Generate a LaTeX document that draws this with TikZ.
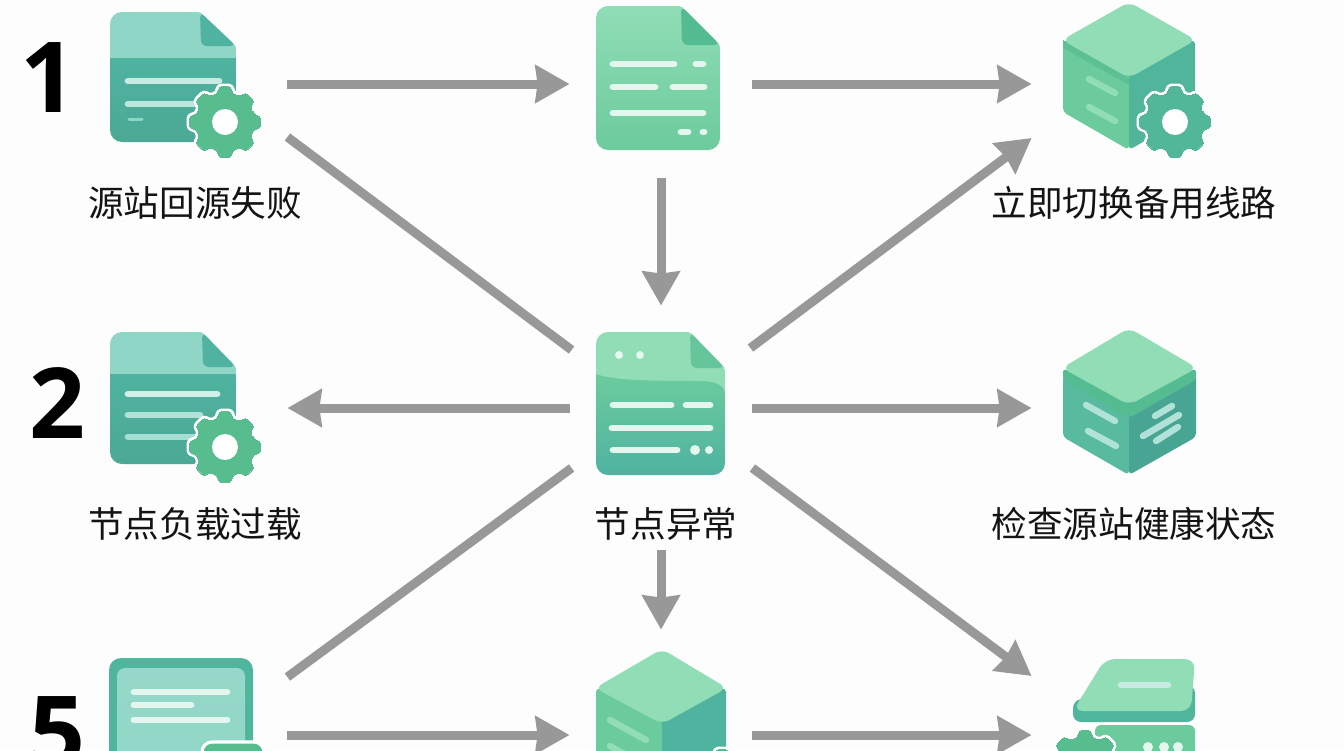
\documentclass[tikz,border=0pt]{standalone}
\usepackage{fontspec}
\setmainfont{Liberation Sans}
\newfontfamily\cjk{Noto Sans CJK SC}
\newfontfamily\digits{Open Sans}
\usetikzlibrary{calc, arrows.meta}

\definecolor{paper}{HTML}{FDFDFD}
\definecolor{flowgrey}{HTML}{989898}
\definecolor{mintlight}{HTML}{90DDB6}
\definecolor{mintmid}{HTML}{6CCB9D}
\definecolor{mintdark}{HTML}{55BB90}
\definecolor{teallight}{HTML}{90D6C6}
\definecolor{tealmid}{HTML}{4FB3A0}
\definecolor{tealdark}{HTML}{48A594}
\definecolor{gearmint}{HTML}{57BD8F}
\definecolor{barlight}{HTML}{E4F7EF}

\tikzset{
    flow/.style={draw=flowgrey, line width=4.5pt, -{Stealth[length=17pt, width=18.5pt, inset=1pt]}},
    plainflow/.style={draw=flowgrey, line width=4.5pt},
    iconbox/.style={minimum width=#1*0.5pt, minimum height=188*0.5pt, inner sep=0pt},
    caption/.style={font=\cjk\fontsize{17.8}{20}\selectfont, text=black!92, inner sep=0pt, outer sep=0pt},
    rownumber/.style={font=\digits\bfseries\fontsize{49}{49}\selectfont, text=black, inner sep=0pt},
    bar/.style={line cap=round, line width=3.4pt, draw=barlight},
    facebar/.style={line cap=round, line width=3.2pt, draw=#1},
}

% gear: centre x, centre y, radius, colour
\newcommand{\gearmark}[4]{
    \begin{scope}[shift={(#1,#2)}]
        \foreach \kind/\lw in {white/3pt, #4/0pt} {
            \filldraw[fill=\kind, draw=\kind, line width=\lw, rounded corners=1.5pt, line join=round]
                (-14:{#3*0.82})
                \foreach \a in {0,45,...,315} {
                    -- (\a-14:{#3*0.82}) -- (\a-10:#3) -- (\a+10:#3) -- (\a+14:{#3*0.82})
                } -- cycle;
        }
        \fill[white] (0,0) circle[radius=13];
    \end{scope}
}
% sheet outline: left, top, right, bottom, fold x, fold y
\newcommand{\sheetclip}[6]{
    \clip[rounded corners=6pt] (#1,#4) -- (#1,#2) [rounded corners=1pt] -- (#5,#2) -- (#3,#6) [rounded corners=6pt] -- (#3,#4) -- cycle;
}

\begin{document}
\begin{tikzpicture}[x=0.5pt, y=-0.5pt]
    \useasboundingbox (0,0) rectangle (1344,750);
    \clip (0,0) rectangle (1344,750);
    \fill[paper] (0,0) rectangle (1344,750);

    % places of the icons
    \node [iconbox=202] (src) at (186, 84) {};
        \node [iconbox=182] (log) at ($(src) + (475, 0)$) {};
        \node [iconbox=202] (swap) at ($(log) + (472, 0)$) {};
    \node [iconbox=202, minimum height=204*0.5pt] (load) at (186, 408) {};
        \node [iconbox=182, minimum height=204*0.5pt] (fault) at ($(load) + (475, 0)$) {};
        \node [iconbox=202] (check) at ($(fault) + (472, 0)$) {};
    \node [iconbox=202, minimum height=210*0.5pt] (edge) at (186, 735) {};
        \node [iconbox=182, minimum height=210*0.5pt] (cube) at ($(edge) + (475, 0)$) {};
        \node [iconbox=202] (rack) at ($(cube) + (472, 0)$) {};

    % captions and row numbers
    \node [caption] (srcname) at (195, 203) {源站回源失败};
    \node [caption] (swapname) at (1134, 203) {立即切换备用线路};
    \node [caption] (loadname) at (195, 524) {节点负载过载};
    \node [caption, outer sep=5pt] (faultname) at (666, 524) {节点异常};
    \node [caption] (checkname) at (1134, 524) {检查源站健康状态};
    \node [rownumber] (one) at (48, 78) {1};
    \node [rownumber] (two) at (57, 403) {2};
    \node [rownumber] (five) at (57, 732) {5};

    % connectors
    \draw [flow] (src.east) -- (log.west);
    \draw [flow] (log.east) -- (swap.west);
    \draw [flow] (log) -- (fault.north);
    \draw [plainflow] ($(src.east) + (0, 53)$) -- ($(fault.west) + (2, -58)$);
    \draw [flow] ($(fault.east) + (-2, -60)$) -- ($(swap.west) + (0, 54)$);
    \draw [flow] (fault.west) -- (load.east);
    \draw [flow] (fault.east) -- (check.west);
    \draw [plainflow] ($(fault.west) + (2, 60)$) -- ($(edge.east) + (0, -58)$);
    \draw [flow] ($(fault.east) + (0, 60)$) -- ($(rack.west) + (0, -59)$);
    \draw [flow] (faultname.south -| fault) -- (cube.north);
    \draw [flow] (edge.east) -- (cube.west);
    \draw [flow] (cube.east) -- (rack.west);

    % sheet with gear, top row
    \begin{scope}
        \sheetclip{110}{12}{236}{142}{200}{46}
        \fill[teallight] (110,12) rectangle (236,58);
        \shade[top color=tealmid, bottom color=tealdark!90!mintmid] (110,58) rectangle (236,142);
    \end{scope}
    \fill[tealmid, rounded corners=3pt] (200,12) -- (201,46) -- (236,46) -- cycle;
    \draw[bar, draw=teallight!50!white] (128,81) -- (219,81);
    \draw[bar, draw=teallight!60!white] (128,104) -- (200,104);
    \draw[bar, draw=teallight, line width=1.5pt] (129,119) -- (142,119);
    \gearmark{225}{122}{36}{gearmint}

    % plain sheet, top row
    \begin{scope}
        \sheetclip{596}{6}{720}{150}{681}{45}
        \shade[top color=mintlight, bottom color=mintmid] (596,6) rectangle (720,150);
        \fill[mintdark, rounded corners=3pt] (681,6) -- (682,45) -- (720,45) -- cycle;
    \end{scope}
    \foreach \xa/\xb/\ya in {613/674/64, 696/703/64, 613/655/87, 673/704/87, 613/703/113, 681/688/132, 703/704/132}
        \draw[bar] (\xa,\ya) -- (\xb,\ya);

    % cube with gear
    \fill[mintmid, rounded corners=2pt] (1063,40) -- (1129,55) -- (1129,150) -- (1063,112) -- cycle;
    \fill[tealmid!70!mintdark, rounded corners=2pt] (1129,55) -- (1195,40) -- (1195,112) -- (1129,150) -- cycle;
    \fill[mintdark!70!mintmid] (1063,40) -- (1129,78) -- (1129,85) -- (1063,48) -- cycle;
    \fill[mintlight, rounded corners=4pt] (1129,2) -- (1196,40) -- (1129,78) -- (1062,40) -- cycle;
    \draw[facebar=mintlight] (1089,79) -- (1115,93);
    \draw[facebar=mintlight] (1089,107) -- (1115,121);
    \gearmark{1175}{122}{36}{tealmid!60!gearmint}

    % sheet with gear, middle row
    \begin{scope}
        \sheetclip{110}{332}{236}{464}{202}{367}
        \fill[teallight] (110,332) rectangle (236,374);
        \shade[top color=tealmid, bottom color=tealdark!90!mintmid] (110,374) rectangle (236,464);
    \end{scope}
    \fill[tealmid, rounded corners=3pt] (202,332) -- (203,367) -- (236,367) -- cycle;
    \draw[bar, draw=teallight!40!white] (128,394) -- (217,394);
    \draw[bar, draw=teallight!70!white] (128,415) -- (200,415);
    \draw[bar, draw=teallight!80!white] (128,437) -- (200,437);
    \gearmark{225}{447}{36}{gearmint}

    % sheet in the centre
    \begin{scope}
        \sheetclip{596}{332}{725}{475}{690}{368}
        \fill[mintlight] (596,332) rectangle (725,400);
        \shade[top color=mintmid, bottom color=tealmid]
            (596,374) .. controls (612,380) and (640,381) .. (700,381) .. controls (715,381) and (725,385) .. (725,395) -- (725,475) -- (596,475) -- cycle;
        \fill[mintdark!70!mintlight, rounded corners=3pt] (690,332) -- (691,368) -- (725,368) -- cycle;
    \end{scope}
    \foreach \xa/\xb/\ya in {613/671/405, 686/710/405, 612/710/428, 613/677/450}
        \draw[bar] (\xa,\ya) -- (\xb,\ya);
    \fill[barlight] (619,355) circle[radius=4] (640,355) circle[radius=4] (695,450) circle[radius=5] (709,450) circle[radius=4];

    % cube with lid
    \fill[tealmid!70!mintmid, rounded corners=2pt] (1063,375) -- (1129,395) -- (1129,475) -- (1063,437) -- cycle;
    \fill[tealdark, rounded corners=2pt] (1129,395) -- (1196,375) -- (1196,437) -- (1129,475) -- cycle;
    \fill[mintdark, rounded corners=2pt] (1063,368) -- (1129,405) -- (1196,368) -- (1196,380) -- (1129,418) -- (1063,380) -- cycle;
    \fill[mintlight, rounded corners=4pt] (1129,328) -- (1197,368) -- (1129,405) -- (1062,368) -- cycle;
    \foreach \xa/\ya/\xb/\yb in {1086/405/1115/421, 1088/431/1116/446, 1155/416/1172/406, 1143/436/1179/415, 1156/441/1178/427}
        \draw[facebar=teallight!70!white] (\xa,\ya) -- (\xb,\yb);

    % window with badge
    \fill[tealmid!80!mintdark, rounded corners=6pt] (109,658) rectangle (253,790);
    \shade[top color=teallight!95!white, bottom color=teallight, rounded corners=4pt] (117,668) rectangle (245,790);
    \draw[bar] (134,692) -- (227,692);
    \draw[bar] (134,705) -- (191,705);
    \draw[bar] (134,720) -- (227,720);
    \filldraw[fill=gearmint, draw=white, line width=1.6pt, rounded corners=5pt] (202,742) rectangle (264,790);

    % cube in the bottom row
    \fill[mintmid, rounded corners=2pt] (596,688) -- (662,700) -- (662,790) -- (596,790) -- cycle;
    \fill[tealmid, rounded corners=2pt] (662,700) -- (726,688) -- (726,790) -- (662,790) -- cycle;
    \fill[mintlight, rounded corners=4pt] (662,649) -- (727,688) -- (662,724) -- (595,688) -- cycle;
    \draw[facebar=mintlight] (610,720) -- (646,740);
    \draw[facebar=mintlight] (610,746) -- (646,766);
    \gearmark{722}{785}{36}{gearmint}

    % rack with tray
    \fill[mintmid, rounded corners=3pt] (1095,725) rectangle (1195,790);
    \fill[tealmid!80!mintdark, rounded corners=4pt] (1073,700) -- (1073,722) -- (1195,722) -- (1195,685) -- cycle;
    \fill[mintlight, rounded corners=5pt] (1105,659) -- (1195,659) -- (1191,711) -- (1073,711) -- cycle;
    \draw[facebar=teallight!50!white] (1121,685) -- (1168,685);
    \fill[barlight] (1148,747) circle[radius=5] (1164,747) circle[radius=5] (1178,747) circle[radius=5];
    \gearmark{1085}{766}{36}{gearmint}
\end{tikzpicture}
\end{document}
